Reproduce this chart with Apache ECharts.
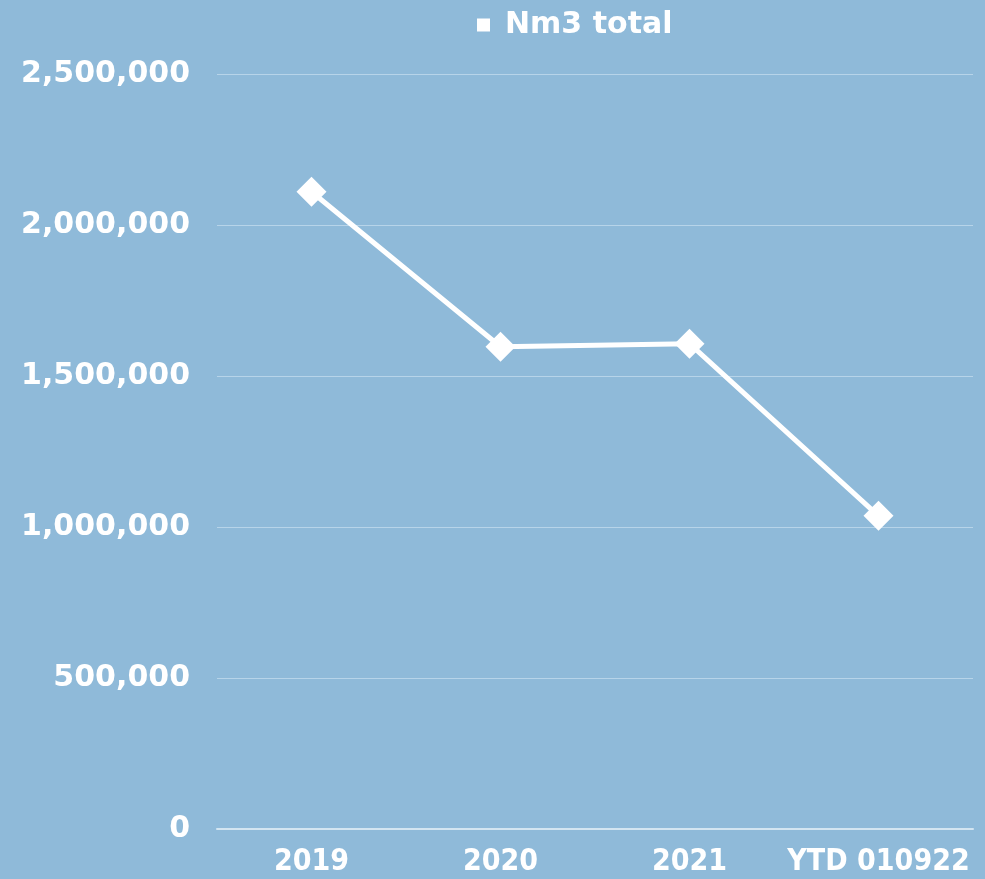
<!DOCTYPE html>
<html>
<head>
<meta charset="utf-8">
<script src="https://cdn.jsdelivr.net/npm/echarts@6/dist/echarts.min.js"></script>
<style>
  html, body { margin: 0; padding: 0; background: #8fbad9; }
  #chart { width: 985px; height: 879px; }
</style>
</head>
<body>
<div id="chart"></div>
<script>
// Yearly gas volume (Nm3)
const categories = ['2019', '2020', '2021', 'YTD 010922'];
const nm3Total = [2110000, 1597000, 1607000, 1037000];
const seriesName = 'Nm3 total';

const chart = echarts.init(document.getElementById('chart'));
chart.setOption({
  backgroundColor: '#8fbad9',
  animation: false,
  legend: {
    top: 5,
    left: 472,
    data: [{ name: seriesName, icon: 'rect' }],
    itemWidth: 13,
    itemHeight: 13,
    textStyle: {
      color: '#ffffff', fontSize: 30, fontWeight: 'bold', fontFamily: 'DejaVu Sans',
      padding: [0, 0, 0, 10]
    }
  },
  grid: { left: 217, right: 12, top: 74, bottom: 50 },
  xAxis: {
    type: 'category',
    data: categories,
    boundaryGap: true,
    axisLine: { lineStyle: { color: '#d3e5f1', width: 2 } },
    axisTick: { show: false },
    axisLabel: {
      interval: 0,
      color: '#ffffff', fontSize: 30, fontWeight: 'bold',
      fontFamily: 'DejaVu Sans Condensed', margin: 18
    }
  },
  yAxis: {
    type: 'value',
    min: 0, max: 2500000, interval: 500000,
    axisLine: { show: false },
    axisTick: { show: false },
    splitLine: { lineStyle: { color: '#b7d4e9', width: 1 } },
    axisLabel: {
      color: '#ffffff', fontSize: 30, fontWeight: 'bold',
      fontFamily: 'DejaVu Sans', margin: 27,
      formatter: v => v.toLocaleString('en-US')
    }
  },
  series: [{
    name: seriesName,
    type: 'line',
    data: nm3Total,
    symbol: 'diamond',
    symbolSize: 30,
    itemStyle: { color: '#ffffff' },
    lineStyle: { color: '#ffffff', width: 5 }
  }]
});
</script>
</body>
</html>
